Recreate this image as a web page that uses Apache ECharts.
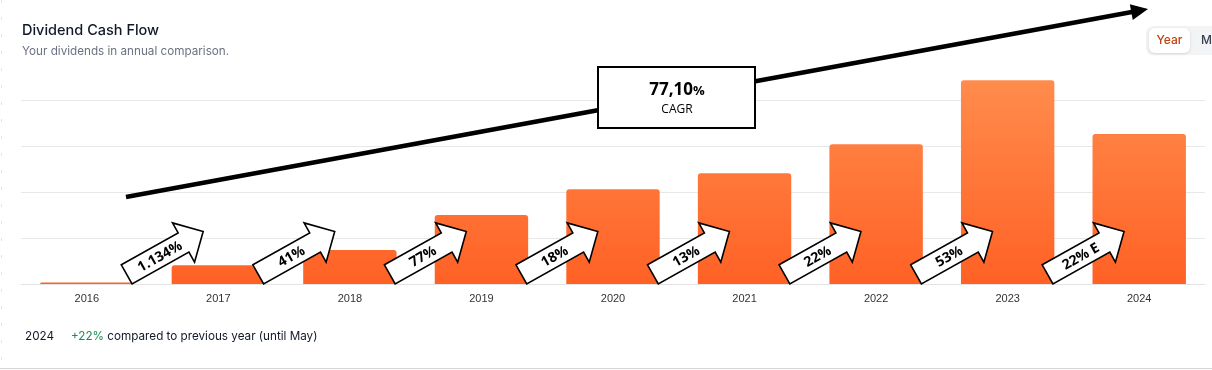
<!DOCTYPE html>
<html>
<head>
<meta charset="utf-8">
<script src="https://cdn.jsdelivr.net/npm/echarts@6/dist/echarts.min.js"></script>
<style>
html,body{margin:0;padding:0;background:#fff;}
#c{width:1212px;height:370px;}
</style>
</head>
<body>
<div id="c"></div>
<script>
// ---- data ----
const years = ['2016','2017','2018','2019','2020','2021','2022','2023','2024'];
const dividends = [0.033, 0.41, 0.74, 1.50, 2.06, 2.41, 3.04, 4.43, 3.26];
const growthLabels = ['1.134%','41%','77%','18%','13%','22%','53%','22% E'];
const yTicks = [0, 1, 2, 3, 4];
const cagrText = '77,10';
const cagrCaption = 'CAGR';

const chart = echarts.init(document.getElementById('c'), null, {renderer:'canvas'});

const ang = 29.3 * Math.PI / 180;
const arrowPts = [[-43.7,-11],[21.5,-11],[21.5,-22.5],[44,0],[21.5,22.5],[21.5,11],[-43.7,11]];

// big CAGR arrow geometry
const lx1 = 126, ly1 = 197, tipX = 1148, tipY = 9;
const dx = tipX - lx1, dy = tipY - ly1, len = Math.hypot(dx, dy);
const ux = dx/len, uy = dy/len, nx = -uy, ny = ux;
const headL = 17, headW = 8;
const bx = tipX - ux*headL, by = tipY - uy*headL;

const option = {
  animation: false,
  grid: {left: 21, right: 7, top: 100, bottom: 86},
  xAxis: {
    type: 'category',
    data: years,
    axisLine: {show: true, lineStyle: {color: '#e3e3e3', width: 1}},
    axisTick: {show: false},
    axisLabel: {color: '#333', fontSize: 11, margin: 9, fontFamily: 'Liberation Sans, Arial, sans-serif'}
  },
  yAxis: {
    type: 'value',
    min: yTicks[0], max: yTicks[yTicks.length-1], interval: 1,
    axisLabel: {show: false},
    axisLine: {show: false},
    axisTick: {show: false},
    splitLine: {lineStyle: {color: '#e8e8e8', width: 1}}
  },
  series: [
    {
      type: 'bar',
      data: dividends,
      barWidth: '71%',
      clip: false,
      itemStyle: {
        borderRadius: [3,3,0,0],
        color: new echarts.graphic.LinearGradient(0, 80, 0, 284, [
          {offset: 0, color: '#ff8c4c'},
          {offset: 1, color: '#ff6125'}
        ], true)
      },
      z: 2
    },
    {
      type: 'custom',
      data: growthLabels.map((t, i) => [i, 0]),
      z: 5,
      clip: false,
      renderItem: function(params, api) {
        const i = api.value(0);
        const base = api.coord([i, 0]);
        const band = api.size([1, 0])[0];
        const cx = base[0] + band * 0.593;
        const cy = base[1] - 31;
        return {
          type: 'group',
          x: cx, y: cy,
          rotation: ang,
          children: [
            {type: 'polygon', shape: {points: arrowPts},
             style: {fill: '#fff', stroke: '#000', lineWidth: 1.6, lineJoin: 'miter'}},
            {type: 'text', x: -6, y: 1,
             style: {text: growthLabels[params.dataIndex], fill: '#000',
               font: 'bold 14px "Open Sans", "Noto Sans", sans-serif',
               align: 'center', verticalAlign: 'middle'}}
          ]
        };
      }
    }
  ],
  graphic: [
    // title
    {type: 'text', left: 22, top: 23, z: 10,
     style: {text: 'Dividend Cash Flow', fill: '#111827', font: '500 14.5px Inter, sans-serif'}},
    {type: 'text', left: 22, top: 45, z: 10,
     style: {text: 'Your dividends in annual comparison.', fill: '#6b7280', font: '11.7px Inter, sans-serif'}},
    // period toggle
    {type: 'rect', shape: {x: 1146, y: 26, width: 80, height: 29, r: 7}, style: {fill: '#f3f4f6'}, z: 10},
    {type: 'rect', shape: {x: 1149, y: 28, width: 41, height: 25, r: 6},
     style: {fill: '#fff', shadowBlur: 3, shadowColor: 'rgba(0,0,0,0.12)', shadowOffsetY: 1}, z: 11},
    {type: 'text', x: 1169.5, y: 40.5, z: 12,
     style: {text: 'Year', fill: '#c2410c', font: '500 12px Inter, sans-serif', align: 'center', verticalAlign: 'middle'}},
    {type: 'text', x: 1201, y: 40.5, z: 12,
     style: {text: 'M', fill: '#374151', font: '500 12px Inter, sans-serif', align: 'left', verticalAlign: 'middle'}},
    // CAGR arrow
    {type: 'line', shape: {x1: lx1, y1: ly1, x2: bx + ux*2, y2: by + uy*2}, style: {stroke: '#000', lineWidth: 4.5}, z: 20},
    {type: 'polygon', shape: {points: [[tipX, tipY], [bx + nx*headW, by + ny*headW], [bx - nx*headW, by - ny*headW]]},
     style: {fill: '#000'}, z: 20},
    {type: 'rect', shape: {x: 598, y: 67, width: 157, height: 61}, style: {fill: '#fff', stroke: '#000', lineWidth: 2}, z: 21},
    {type: 'text', x: 677, y: 90, z: 22,
     style: {text: '{a|' + cagrText + '}{b|%}', align: 'center', verticalAlign: 'middle',
       rich: {a: {font: 'bold 17px "Open Sans", sans-serif', fill: '#000'},
              b: {font: 'bold 13px "Open Sans", sans-serif', fill: '#000', padding: [3,0,0,0]}}}},
    {type: 'text', x: 677, y: 110, z: 22,
     style: {text: cagrCaption, fill: '#000', font: '12px "Open Sans", sans-serif', align: 'center', verticalAlign: 'middle'}},
    // footer
    {type: 'text', left: 25, top: 330, z: 10,
     style: {text: '{y|2024}{g|+22%}{t| compared to previous year (until May)}',
       rich: {y: {font: '11.7px Inter, sans-serif', fill: '#111827', width: 46},
              g: {font: '11.7px Inter, sans-serif', fill: '#1f8a57'},
              t: {font: '11.7px Inter, sans-serif', fill: '#111827'}}}},
    {type: 'line', shape: {x1: 0, y1: 368.5, x2: 1212, y2: 368.5}, style: {stroke: '#d4d4d4', lineWidth: 1}},
    {type: 'line', shape: {x1: 1.5, y1: 0, x2: 1.5, y2: 368}, style: {stroke: '#e2e2e2', lineWidth: 1, lineDash: [3, 14]}}
  ]
};
chart.setOption(option);
</script>
</body>
</html>
